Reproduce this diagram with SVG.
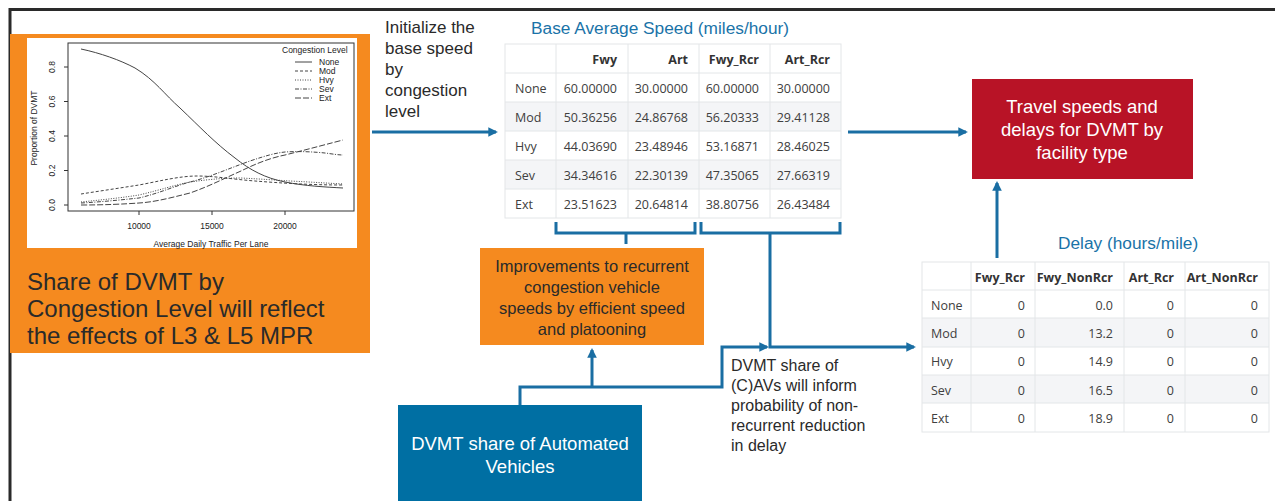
<svg xmlns="http://www.w3.org/2000/svg" width="1275" height="501" viewBox="0 0 1275 501">
<defs>
<style>
.t{font-family:"Liberation Sans",Arial,sans-serif;}
.tb{font-family:"Open Sans","Noto Sans",sans-serif;font-size:12.5px;fill:#404040;}
.th{font-weight:bold;fill:#333;}
.r{text-anchor:end;}
.grid{stroke:#e3e6e8;stroke-width:1;fill:none;}
.con{stroke:#1a6ea3;stroke-width:3;fill:none;}
.ax{stroke:#333;stroke-width:1;fill:none;}
.cv{stroke:#444;stroke-width:1;fill:none;}
.ttl{font-family:"Liberation Sans",Arial,sans-serif;font-size:17.3px;fill:#1a73a8;}
</style>
<marker id="ah" viewBox="0 0 10 10" refX="8" refY="5" markerWidth="3.2" markerHeight="3.2" orient="auto" markerUnits="strokeWidth">
<path d="M0,0 L10,5 L0,10 z" fill="#1a6ea3"/>
</marker>
</defs>
<rect width="1275" height="501" fill="#fff"/>
<path d="M10,501 V9.5 H1275" stroke="#2a2a2a" stroke-width="3" fill="none"/>

<g id="chart-node">
<rect x="10" y="34" width="360" height="319" fill="#f58a1f"/>
<rect x="27" y="38" width="330" height="210" fill="#fff"/>
<rect x="68" y="43" width="286" height="168" class="ax"/>
<g class="ax">
<path d="M139,211 v4 M212,211 v4 M285,211 v4"/>
<path d="M68,205 h-4 M68,170.5 h-4 M68,136 h-4 M68,101.5 h-4 M68,67 h-4"/>
</g>
<g class="t" font-size="8.5" fill="#222" text-anchor="middle">
<text x="139" y="229">10000</text>
<text x="212" y="229">15000</text>
<text x="285" y="229">20000</text>
<text x="211" y="247">Average Daily Traffic Per Lane</text>
<text transform="translate(55,205) rotate(-90)">0.0</text>
<text transform="translate(55,170.5) rotate(-90)">0.2</text>
<text transform="translate(55,136) rotate(-90)">0.4</text>
<text transform="translate(55,101.5) rotate(-90)">0.6</text>
<text transform="translate(55,67) rotate(-90)">0.8</text>
<text transform="translate(37,128) rotate(-90)">Proportion of DVMT</text>
</g>
<g class="t" font-size="8.5" fill="#222">
<text x="282" y="53">Congestion Level</text>
<text x="319" y="65">None</text>
<text x="319" y="74">Mod</text>
<text x="319" y="83">Hvy</text>
<text x="319" y="92">Sev</text>
<text x="319" y="101">Ext</text>
</g>
<path class="cv" d="M295,62 h17"/>
<path class="cv" d="M295,71 h17" stroke-dasharray="3,2"/>
<path class="cv" d="M295,80 h17" stroke-dasharray="1,1.5"/>
<path class="cv" d="M295,89 h17" stroke-dasharray="4,1.5,1,1.5"/>
<path class="cv" d="M295,98 h17" stroke-dasharray="6,2"/>
<path class="cv" d="M81,49 C100,53 120,60 135,68 C155,80 165,95 180,108 C200,127 215,143 235,158 C250,170 265,178 285,182 C305,186 325,187 343,188"/>
<path class="cv" stroke-dasharray="3,2" d="M81,194 C100,191 120,188 139,185 C160,181 180,176 197,176 C215,176 230,179 255,181 C280,183 310,185 343,185"/>
<path class="cv" stroke-dasharray="1,1.5" d="M81,202 C100,200 120,198 139,195 C160,190 175,185 190,182 C205,180 220,178 241,178 C260,179 275,180 290,181 C310,182 325,183 343,184"/>
<path class="cv" stroke-dasharray="4,1.5,1,1.5" d="M81,203 C100,202 120,200 139,198 C160,193 175,186 190,182 C210,177 230,168 250,161 C265,156 275,153 285,152 C300,151 315,152 325,153 C333,154 338,155 343,155"/>
<path class="cv" stroke-dasharray="6,2" d="M81,205 C105,205 125,204 139,203 C155,202 170,198 190,193 C210,186 225,178 241,171 C255,164 270,158 285,155 C305,150 320,146 343,140"/>
<g class="t" font-size="24" fill="#2a2a2a">
<text x="27" y="290">Share of DVMT by</text>
<text x="27" y="317">Congestion  Level will reflect</text>
<text x="27" y="344">the effects of L3 &amp; L5 MPR</text>
</g>
</g>

<g id="init-label" class="t" font-size="17" fill="#2a2a2a">
<text x="385" y="33">Initialize the</text>
<text x="385" y="54">base speed</text>
<text x="385" y="75">by</text>
<text x="385" y="96">congestion</text>
<text x="385" y="117">level</text>
</g>

<g id="base-table">
<text class="ttl" x="531" y="34">Base Average Speed (miles/hour)</text>
<rect x="505" y="102" width="336" height="29" fill="#f4f5f7"/>
<rect x="505" y="160" width="336" height="29" fill="#f4f5f7"/>
<rect x="505" y="44" width="336" height="174" class="grid"/>
<path class="grid" d="M505,73 H841 M505,102 H841 M505,131 H841 M505,160 H841 M505,189 H841 M556,44 V218 M628,44 V218 M699,44 V218 M770,44 V218"/>
<g class="tb">
<text class="th r" x="617" y="63.5">Fwy</text>
<text class="th r" x="688" y="63.5">Art</text>
<text class="th r" x="759" y="63.5">Fwy_Rcr</text>
<text class="th r" x="830" y="63.5">Art_Rcr</text>
<text x="515" y="92.5">None</text><text class="r" x="617" y="92.5">60.00000</text><text class="r" x="688" y="92.5">30.00000</text><text class="r" x="759" y="92.5">60.00000</text><text class="r" x="830" y="92.5">30.00000</text>
<text x="515" y="121.5">Mod</text><text class="r" x="617" y="121.5">50.36256</text><text class="r" x="688" y="121.5">24.86768</text><text class="r" x="759" y="121.5">56.20333</text><text class="r" x="830" y="121.5">29.41128</text>
<text x="515" y="150.5">Hvy</text><text class="r" x="617" y="150.5">44.03690</text><text class="r" x="688" y="150.5">23.48946</text><text class="r" x="759" y="150.5">53.16871</text><text class="r" x="830" y="150.5">28.46025</text>
<text x="515" y="179.5">Sev</text><text class="r" x="617" y="179.5">34.34616</text><text class="r" x="688" y="179.5">22.30139</text><text class="r" x="759" y="179.5">47.35065</text><text class="r" x="830" y="179.5">27.66319</text>
<text x="515" y="208.5">Ext</text><text class="r" x="617" y="208.5">23.51623</text><text class="r" x="688" y="208.5">20.64814</text><text class="r" x="759" y="208.5">38.80756</text><text class="r" x="830" y="208.5">26.43484</text>
</g>
</g>

<g id="improve-node">
<rect x="480" y="248" width="224" height="97" fill="#f58a1f"/>
<g class="t" font-size="16.5" fill="#2a2a2a" text-anchor="middle">
<text x="592" y="272">Improvements  to recurrent</text>
<text x="592" y="293">congestion vehicle</text>
<text x="592" y="314">speeds by efficient speed</text>
<text x="592" y="335">and platooning</text>
</g>
</g>

<g id="av-node">
<rect x="398" y="405" width="244" height="96" fill="#006fa3"/>
<g class="t" font-size="18.5" fill="#fff" text-anchor="middle">
<text x="520" y="450">DVMT share of Automated</text>
<text x="520" y="473">Vehicles</text>
</g>
</g>

<g id="cav-label" class="t" font-size="16" fill="#2a2a2a">
<text x="731" y="371">DVMT share of</text>
<text x="731" y="391">(C)AVs will inform</text>
<text x="731" y="411">probability of non-</text>
<text x="731" y="431">recurrent  reduction</text>
<text x="731" y="451">in delay</text>
</g>

<g id="result-node">
<rect x="972" y="79" width="221" height="100" fill="#b81326"/>
<g class="t" font-size="18.5" fill="#fff" text-anchor="middle">
<text x="1082" y="113">Travel speeds and</text>
<text x="1082" y="136">delays for DVMT by</text>
<text x="1082" y="159">facility type</text>
</g>
</g>

<g id="delay-table">
<text class="ttl" x="1058" y="249">Delay (hours/mile)</text>
<rect x="922" y="318" width="347" height="29" fill="#f4f5f7"/>
<rect x="922" y="375" width="347" height="28" fill="#f4f5f7"/>
<rect x="922" y="262" width="347" height="170" class="grid"/>
<path class="grid" d="M922,290 H1269 M922,318 H1269 M922,347 H1269 M922,375 H1269 M922,403 H1269 M971,262 V432 M1035,262 V432 M1124,262 V432 M1185,262 V432"/>
<g class="tb">
<text class="th r" x="1025" y="281.5">Fwy_Rcr</text>
<text class="th r" x="1113" y="281.5">Fwy_NonRcr</text>
<text class="th r" x="1174" y="281.5">Art_Rcr</text>
<text class="th r" x="1258" y="281.5">Art_NonRcr</text>
<text x="931" y="309.5">None</text><text class="r" x="1025" y="309.5">0</text><text class="r" x="1113" y="309.5">0.0</text><text class="r" x="1174" y="309.5">0</text><text class="r" x="1258" y="309.5">0</text>
<text x="931" y="337.5">Mod</text><text class="r" x="1025" y="337.5">0</text><text class="r" x="1113" y="337.5">13.2</text><text class="r" x="1174" y="337.5">0</text><text class="r" x="1258" y="337.5">0</text>
<text x="931" y="365.5">Hvy</text><text class="r" x="1025" y="365.5">0</text><text class="r" x="1113" y="365.5">14.9</text><text class="r" x="1174" y="365.5">0</text><text class="r" x="1258" y="365.5">0</text>
<text x="931" y="394.5">Sev</text><text class="r" x="1025" y="394.5">0</text><text class="r" x="1113" y="394.5">16.5</text><text class="r" x="1174" y="394.5">0</text><text class="r" x="1258" y="394.5">0</text>
<text x="931" y="422.5">Ext</text><text class="r" x="1025" y="422.5">0</text><text class="r" x="1113" y="422.5">18.9</text><text class="r" x="1174" y="422.5">0</text><text class="r" x="1258" y="422.5">0</text>
</g>
</g>

<g id="connectors" class="con">
<path d="M372,132 H496" marker-end="url(#ah)"/>
<path d="M848,132 H966" marker-end="url(#ah)"/>
<path d="M556,222 V233 H695 V222"/>
<path d="M626,233 V244"/>
<path d="M701,222 V233 H840 V222"/>
<path d="M770,233 V347 H914" marker-end="url(#ah)"/>
<path d="M520,405 V387 H722 V347 H767" marker-end="url(#ah)"/>
<path d="M592,387 V350" marker-end="url(#ah)"/>
<path d="M997,258 V183" marker-end="url(#ah)"/>
</g>
</svg>
